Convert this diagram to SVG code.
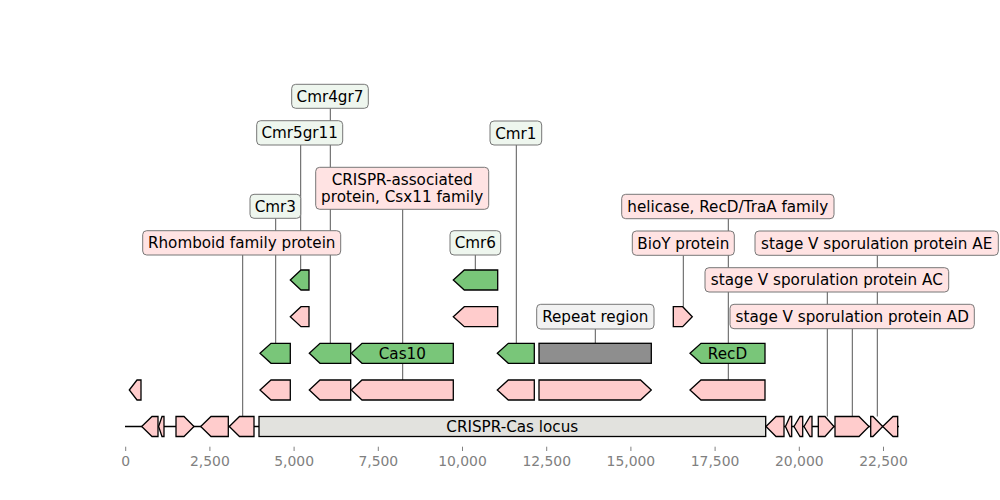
<svg xmlns="http://www.w3.org/2000/svg" width="1000" height="500" viewBox="0 0 1000 500">
<style>
text{font-family:"DejaVu Sans","Liberation Sans",sans-serif;}
.lbl{font-size:15.2px;fill:#000;text-anchor:middle;}
.tick{font-size:13.9px;fill:#808080;text-anchor:middle;}
.tk{stroke:#808080;stroke-width:1;}
.con{stroke:#444;stroke-width:0.9;fill:none;}
.f{stroke:#000;stroke-width:1.3;stroke-linejoin:miter;}
.p{fill:#ffcccc;}
.g{fill:#79c679;}
.gr{fill:#8e8e8e;}
.loc{fill:#e2e2de;}
.bx{stroke:#777;stroke-width:1;}
.bg{fill:#eef6ee;}
.bp{fill:#ffe3e3;}
.bgr{fill:#f2f2f2;}
</style>
<rect width="1000" height="500" fill="#fff"/>
<g id="axis">
<line x1="125" y1="426.5" x2="899" y2="426.5" stroke="#000" stroke-width="1.5"/>
<g class="tk">
<line x1="125.7" y1="446.7" x2="125.7" y2="451"/>
<line x1="209.9" y1="446.7" x2="209.9" y2="451"/>
<line x1="294.1" y1="446.7" x2="294.1" y2="451"/>
<line x1="378.3" y1="446.7" x2="378.3" y2="451"/>
<line x1="462.5" y1="446.7" x2="462.5" y2="451"/>
<line x1="546.7" y1="446.7" x2="546.7" y2="451"/>
<line x1="630.9" y1="446.7" x2="630.9" y2="451"/>
<line x1="715.1" y1="446.7" x2="715.1" y2="451"/>
<line x1="799.3" y1="446.7" x2="799.3" y2="451"/>
<line x1="883.5" y1="446.7" x2="883.5" y2="451"/>
</g>
<text class="tick" x="125.7" y="466">0</text>
<text class="tick" x="209.9" y="466">2,500</text>
<text class="tick" x="294.1" y="466">5,000</text>
<text class="tick" x="378.3" y="466">7,500</text>
<text class="tick" x="462.5" y="466">10,000</text>
<text class="tick" x="546.7" y="466">12,500</text>
<text class="tick" x="630.9" y="466">15,000</text>
<text class="tick" x="715.1" y="466">17,500</text>
<text class="tick" x="799.3" y="466">20,000</text>
<text class="tick" x="883.5" y="466">22,500</text>
</g>
<g id="connectors" class="con">
<line x1="330.3" y1="108.3" x2="330.3" y2="343.3"/>
<line x1="300.7" y1="145" x2="300.7" y2="270"/>
<line x1="275.7" y1="218.3" x2="275.7" y2="343.3"/>
<line x1="242.7" y1="255" x2="242.7" y2="416.5"/>
<line x1="402.7" y1="209.3" x2="402.7" y2="380"/>
<line x1="475.3" y1="255" x2="475.3" y2="270"/>
<line x1="516.3" y1="145" x2="516.3" y2="343.3"/>
<line x1="595.3" y1="329" x2="595.3" y2="343.3"/>
<line x1="728.3" y1="218.7" x2="728.3" y2="380"/>
<line x1="683.3" y1="255.3" x2="683.3" y2="306.7"/>
<line x1="877.3" y1="255.3" x2="877.3" y2="416.5"/>
<line x1="827.3" y1="292" x2="827.3" y2="416.5"/>
<line x1="852.3" y1="328.7" x2="852.3" y2="416.5"/>
</g>
<g id="row1">
<polygon class="f p" points="141.7,426.5 152,416.5 158,416.5 158,436.5 152,436.5"/>
<polygon class="f p" points="158.6,426.5 162,416.5 164,416.5 164,436.5 162,436.5"/>
<polygon class="f p" points="176,416.5 184,416.5 194,426.5 184,436.5 176,436.5"/>
<polygon class="f p" points="200.7,426.5 211,416.5 228.3,416.5 228.3,436.5 211,436.5"/>
<polygon class="f p" points="229.3,426.5 239.5,416.5 254,416.5 254,436.5 239.5,436.5"/>
<g id="locus"><rect class="f loc" x="259" y="416.5" width="506.7" height="20"/>
<text class="lbl" x="512.3" y="432">CRISPR-Cas locus</text></g>
<polygon class="f p" points="766,426.5 776,416.5 784,416.5 784,436.5 776,436.5"/>
<polygon class="f p" points="785.5,426.5 790,416.5 791.7,416.5 791.7,436.5 790,436.5"/>
<polygon class="f p" points="794,426.5 800,416.5 802.7,416.5 802.7,436.5 800,436.5"/>
<polygon class="f p" points="804,426.5 810,416.5 812,416.5 812,436.5 810,436.5"/>
<polygon class="f p" points="818.3,416.5 825,416.5 834,426.5 825,436.5 818.3,436.5"/>
<polygon class="f p" points="835,416.5 859,416.5 869,426.5 859,436.5 835,436.5"/>
<polygon class="f p" points="870.7,416.5 873,416.5 882.7,426.5 873,436.5 870.7,436.5"/>
<polygon class="f p" points="882.7,426.5 893,416.5 897.7,416.5 897.7,436.5 893,436.5"/>
</g>
<g id="row2">
<polygon class="f p" points="129.3,390 137,380 141,380 141,400 137,400"/>
<polygon class="f p" points="260,390 271,380 290.3,380 290.3,400 271,400"/>
<polygon class="f p" points="309.3,390 320,380 350.7,380 350.7,400 320,400"/>
<polygon class="f p" points="351.3,390 362,380 453.3,380 453.3,400 362,400"/>
<polygon class="f p" points="497.3,390 508.3,380 534.3,380 534.3,400 508.3,400"/>
<polygon class="f p" points="539,380 640.5,380 651.3,390 640.5,400 539,400"/>
<polygon class="f p" points="690,390 701,380 765,380 765,400 701,400"/>
</g>
<g id="row3">
<polygon class="f g" points="260,353.3 271,343.3 290.3,343.3 290.3,363.3 271,363.3"/>
<polygon class="f g" points="309.3,353.3 320,343.3 350.7,343.3 350.7,363.3 320,363.3"/>
<g id="cas10"><polygon class="f g" points="351.3,353.3 362,343.3 453.3,343.3 453.3,363.3 362,363.3"/>
<text class="lbl" x="402.3" y="358.8">Cas10</text></g>
<polygon class="f g" points="497.3,353.3 508.3,343.3 534.3,343.3 534.3,363.3 508.3,363.3"/>
<rect class="f gr" x="539" y="343.3" width="112.3" height="20"/>
<g id="recd"><polygon class="f g" points="690,353.3 701,343.3 765,343.3 765,363.3 701,363.3"/>
<text class="lbl" x="727.5" y="358.8">RecD</text></g>
</g>
<g id="row4">
<polygon class="f p" points="290.3,316.7 301,306.7 309,306.7 309,326.7 301,326.7"/>
<polygon class="f p" points="453.3,316.7 464.3,306.7 497.7,306.7 497.7,326.7 464.3,326.7"/>
<polygon class="f p" points="673.3,306.7 682.7,306.7 692.3,316.7 682.7,326.7 673.3,326.7"/>
</g>
<g id="row5">
<polygon class="f g" points="290.3,280 301,270 309,270 309,290 301,290"/>
<polygon class="f g" points="453.3,280 464.3,270 497.7,270 497.7,290 464.3,290"/>
</g>
<g id="lab-cmr4gr7"><rect class="bx bg" x="291.7" y="84.3" width="76.6" height="24" rx="4"/><text class="lbl" x="330" y="101.8">Cmr4gr7</text></g>
<g id="lab-cmr5gr11"><rect class="bx bg" x="256.7" y="120.7" width="86" height="24.3" rx="4"/><text class="lbl" x="299.7" y="138.3">Cmr5gr11</text></g>
<g id="lab-csx11"><rect class="bx bp" x="315.7" y="167.3" width="173" height="42" rx="4"/><text class="lbl" x="402.2" y="184.5">CRISPR-associated</text><text class="lbl" x="402.2" y="202">protein, Csx11 family</text></g>
<g id="lab-cmr3"><rect class="bx bg" x="250" y="194.3" width="50.7" height="24" rx="4"/><text class="lbl" x="275.3" y="211.8">Cmr3</text></g>
<g id="lab-rhomboid"><rect class="bx bp" x="142.7" y="230.7" width="198" height="24.3" rx="4"/><text class="lbl" x="241.7" y="248.3">Rhomboid family protein</text></g>
<g id="lab-cmr6"><rect class="bx bg" x="450" y="230.7" width="50.7" height="24.3" rx="4"/><text class="lbl" x="475.3" y="248.3">Cmr6</text></g>
<g id="lab-cmr1"><rect class="bx bg" x="490" y="121" width="51.7" height="24" rx="4"/><text class="lbl" x="515.8" y="138.5">Cmr1</text></g>
<g id="lab-repeat"><rect class="bx bgr" x="536.7" y="304.3" width="117.3" height="24.7" rx="4"/><text class="lbl" x="595.3" y="322">Repeat region</text></g>
<g id="lab-helicase"><rect class="bx bp" x="621.7" y="194.3" width="212.3" height="24.4" rx="4"/><text class="lbl" x="727.8" y="212">helicase, RecD/TraA family</text></g>
<g id="lab-bioy"><rect class="bx bp" x="632.3" y="231" width="102" height="24.3" rx="4"/><text class="lbl" x="683.3" y="248.6">BioY protein</text></g>
<g id="lab-ae"><rect class="bx bp" x="755" y="231" width="243.3" height="24.3" rx="4"/><text class="lbl" x="876.7" y="248.6">stage V sporulation protein AE</text></g>
<g id="lab-ac"><rect class="bx bp" x="705" y="267.7" width="243.7" height="24.3" rx="4"/><text class="lbl" x="826.8" y="285.3">stage V sporulation protein AC</text></g>
<g id="lab-ad"><rect class="bx bp" x="730" y="304.3" width="244.3" height="24.4" rx="4"/><text class="lbl" x="852.2" y="322">stage V sporulation protein AD</text></g>
</svg>
